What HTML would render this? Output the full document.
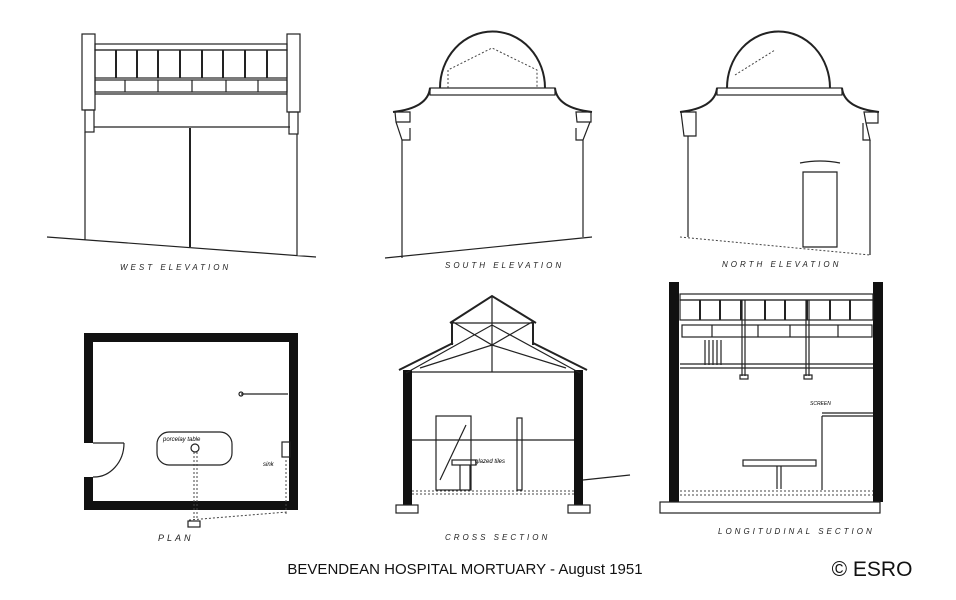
<!DOCTYPE html>
<html><head><meta charset="utf-8"><style>
html,body{margin:0;padding:0;background:#fff;}
svg{display:block;}
.l{fill:none;stroke:#222;stroke-width:1.2}
.t{fill:none;stroke:#222;stroke-width:2}
.d{fill:none;stroke:#444;stroke-width:1;stroke-dasharray:2 2}
.lab{font-family:"Liberation Sans",sans-serif;font-style:italic;font-size:8px;letter-spacing:3px;fill:#222}
</style></head><body>
<svg width="956" height="600" viewBox="0 0 956 600" xmlns="http://www.w3.org/2000/svg">
<!-- WEST ELEVATION -->
<g>
<rect x="82" y="34" width="13" height="76" class="l"/>
<rect x="85" y="110" width="9" height="22" class="l"/>
<rect x="287" y="34" width="13" height="78" class="l"/>
<rect x="289" y="112" width="9" height="22" class="l"/>
<rect x="95" y="44" width="192" height="6" class="l"/>
<rect x="95" y="50" width="192" height="28" class="l"/>
<path class="t" d="M116 50V78M137 50V78M158 50V78M180 50V78M202 50V78M223 50V78M245 50V78M267 50V78"/>
<rect x="95" y="80" width="192" height="12" class="l"/>
<path class="l" d="M125 80V92M158 80V92M192 80V92M226 80V92M258 80V92M95 94H287"/>
<path class="l" d="M94 127H290M85 132V240M297 134V256M47 237L316 257"/>
<path class="t" d="M190 128V247"/>
<text x="120" y="270" class="lab">WEST  ELEVATION</text>
</g>
<!-- SOUTH ELEVATION -->
<g>
<path class="t" d="M440 88A52 56 0 0 1 545 88"/>
<path class="d" d="M448 88V70L492 48L537 70V88"/>
<rect x="430" y="88" width="125" height="7" class="l"/>
<path class="t" d="M430 88Q428 108 393 112M555 88Q557 108 592 112"/>
<path class="l" d="M395 112H410V122H396ZM576 112H591V122H577ZM396 122L402 140H410V128M590 122L583 140H576V128"/>
<path class="l" d="M402 140V258M583 140V237M385 258L592 237"/>
<text x="445" y="268" class="lab">SOUTH  ELEVATION</text>
</g>
<!-- NORTH ELEVATION -->
<g>
<path class="t" d="M727 88A51 56 0 0 1 830 88"/>
<path class="d" d="M735 75L775 50"/>
<rect x="717" y="88" width="125" height="7" class="l"/>
<path class="t" d="M717 88Q715 108 680 112M842 88Q844 108 879 112"/>
<path class="l" d="M681 112H696V136H684ZM864 112H878V123H866ZM866 123L870 140H863V123"/>
<path class="l" d="M688 136V237M870 140V255M803 172H837V247H803ZM800 163Q820 159 840 163"/>
<path class="d" d="M680 237L870 255"/>
<text x="722" y="267" class="lab">NORTH  ELEVATION</text>
</g>
<!-- PLAN -->
<g>
<path d="M84 333H298V510H84V477H93V501H289V342H93V443H84Z" fill="#111"/>
<path class="l" d="M93 443H124M124 443A30 34 0 0 1 93 477"/>
<rect x="157" y="432" width="75" height="33" rx="12" class="l"/>
<circle cx="195" cy="448" r="4" class="l"/>
<path class="l" d="M241 394H288"/>
<circle cx="241" cy="394" r="2" class="l"/>
<rect x="282" y="442" width="8" height="15" class="l"/>
<path class="d" d="M194 452V520M197 452V520M286 460V515M189 520L287 512"/>
<rect x="188" y="521" width="12" height="6" class="l"/>
<text x="263" y="466" font-family="Liberation Sans" font-size="6" font-style="italic">sink</text>
<text x="163" y="441" font-family="Liberation Sans" font-size="6" font-style="italic">porcelay table</text>
<text x="158" y="541" class="lab" style="font-size:9px">PLAN</text>
</g>
<!-- CROSS SECTION -->
<g>
<rect x="403" y="370" width="9" height="135" fill="#111"/>
<rect x="574" y="370" width="9" height="135" fill="#111"/>
<path class="t" d="M399 370L453 343M533 343L587 370M450 323L492 296L536 323"/>
<path class="t" d="M452 322V345M533 322V345"/>
<path class="l" d="M406 373L492 325L580 373M412 372H574M420 368L492 345L566 368M453 322L492 345L532 322M492 297V372M453 323H533"/>
<rect x="436" y="416" width="35" height="74" class="l"/>
<path class="l" d="M440 480L466 425M412 440H574"/>
<rect x="517" y="418" width="5" height="72" class="l"/>
<rect x="452" y="460" width="24" height="5" class="l"/>
<path class="l" d="M460 465V490M470 465V490"/>
<path class="d" d="M412 491H574M412 494H574"/>
<rect x="396" y="505" width="22" height="8" class="l"/>
<rect x="568" y="505" width="22" height="8" class="l"/>
<path class="l" d="M583 480L630 475"/>
<text x="475" y="463" font-family="Liberation Sans" font-size="6" font-style="italic">glazed  tiles</text>
<text x="445" y="540" class="lab">CROSS  SECTION</text>
</g>
<!-- LONGITUDINAL SECTION -->
<g>
<rect x="669" y="282" width="10" height="220" fill="#111"/>
<rect x="873" y="282" width="10" height="220" fill="#111"/>
<rect x="680" y="294" width="193" height="6" class="l"/>
<rect x="680" y="300" width="193" height="20" class="l"/>
<path class="t" d="M700 300V320M720 300V320M741 300V320M765 300V320M785 300V320M807 300V320M830 300V320M850 300V320"/>
<rect x="682" y="325" width="190" height="12" class="l"/>
<path class="l" d="M712 325V337M758 325V337M790 325V337M838 325V337M680 364H873M680 368H873"/>
<path class="l" d="M742 300V376M745 300V376M806 300V376M809 300V376M705 340V365M709 340V365M713 340V365M717 340V365M721 340V365"/>
<rect x="740" y="375" width="8" height="4" class="l"/>
<rect x="804" y="375" width="8" height="4" class="l"/>
<rect x="743" y="460" width="73" height="6" class="l"/>
<path class="l" d="M777 466V489M781 466V489M822 416V490M822 416H873M822 413H873"/>
<path class="d" d="M680 491H873M680 495H873"/>
<rect x="660" y="502" width="220" height="11" class="l"/>
<text x="810" y="405" font-family="Liberation Sans" font-size="5" font-style="italic">SCREEN</text>
<text x="718" y="534" class="lab">LONGITUDINAL  SECTION</text>
</g>
<text x="465" y="574" text-anchor="middle" font-family="Liberation Sans,sans-serif" font-size="15" fill="#111">BEVENDEAN HOSPITAL MORTUARY - August 1951</text>
<text x="872" y="576" text-anchor="middle" font-family="Liberation Sans,sans-serif" font-size="21" fill="#111">© ESRO</text>
</svg>
</body></html>
